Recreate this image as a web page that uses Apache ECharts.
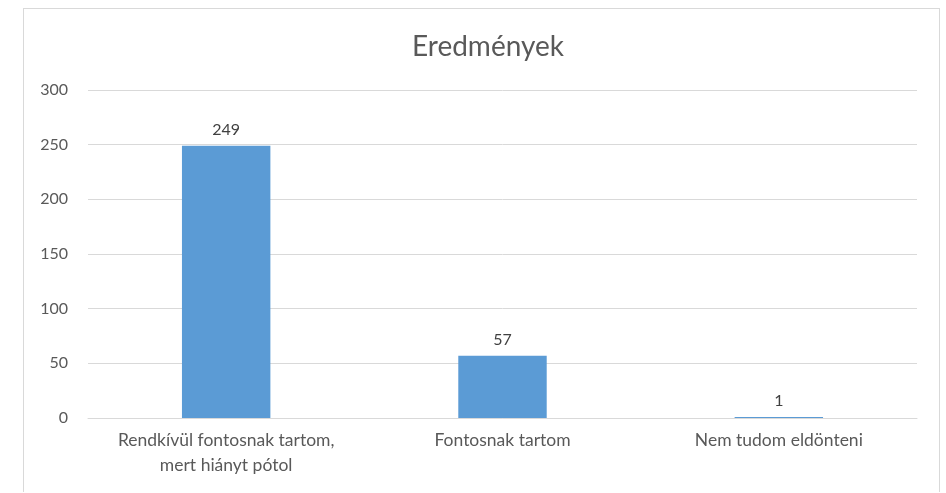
<!DOCTYPE html>
<html>
<head>
<meta charset="utf-8">
<script src="https://cdn.jsdelivr.net/npm/echarts@6/dist/echarts.min.js"></script>
<style>
html,body{margin:0;padding:0;background:#fff;}
#frame{position:absolute;left:23px;top:8px;width:917px;height:484px;border:1px solid #d9d9d9;border-bottom:none;box-sizing:border-box;}
#chart{position:absolute;left:0;top:0;width:946px;height:493px;}
</style>
</head>
<body>
<div id="frame"></div>
<div id="chart"></div>
<script>
const categories = ["Rendkívül fontosnak tartom,\nmert hiányt pótol", "Fontosnak tartom", "Nem tudom eldönteni"];
const values = [249, 57, 1];
const yTicks = [0, 50, 100, 150, 200, 250, 300];

const chart = echarts.init(document.getElementById('chart'));
chart.setOption({
  animation: false,
  title: {
    text: 'Eredmények',
    left: 483,
    textAlign: 'center',
    top: 28,
    textStyle: {fontFamily: 'Lato', fontSize: 28, fontWeight: 'normal', color: '#595959'}
  },
  grid: {left: 88, right: 29, top: 90, bottom: 75},
  xAxis: {
    type: 'category',
    data: categories,
    axisLine: {lineStyle: {color: '#d9d9d9'}},
    axisTick: {show: false},
    axisLabel: {fontFamily: 'Lato', fontSize: 17.5, color: '#595959', lineHeight: 25, margin: 10, interval: 0}
  },
  yAxis: {
    type: 'value',
    min: yTicks[0],
    max: yTicks[yTicks.length - 1],
    interval: 50,
    axisLine: {show: false},
    axisTick: {show: false},
    splitLine: {lineStyle: {color: '#d9d9d9'}},
    axisLabel: {fontFamily: 'Lato', fontSize: 16, color: '#595959', margin: 20}
  },
  series: [{
    type: 'bar',
    data: values,
    barWidth: '32%',
    itemStyle: {color: '#5B9BD5'},
    label: {show: true, position: 'top', distance: 8, fontFamily: 'Lato', fontSize: 16, color: '#404040'}
  }]
});
</script>
</body>
</html>
